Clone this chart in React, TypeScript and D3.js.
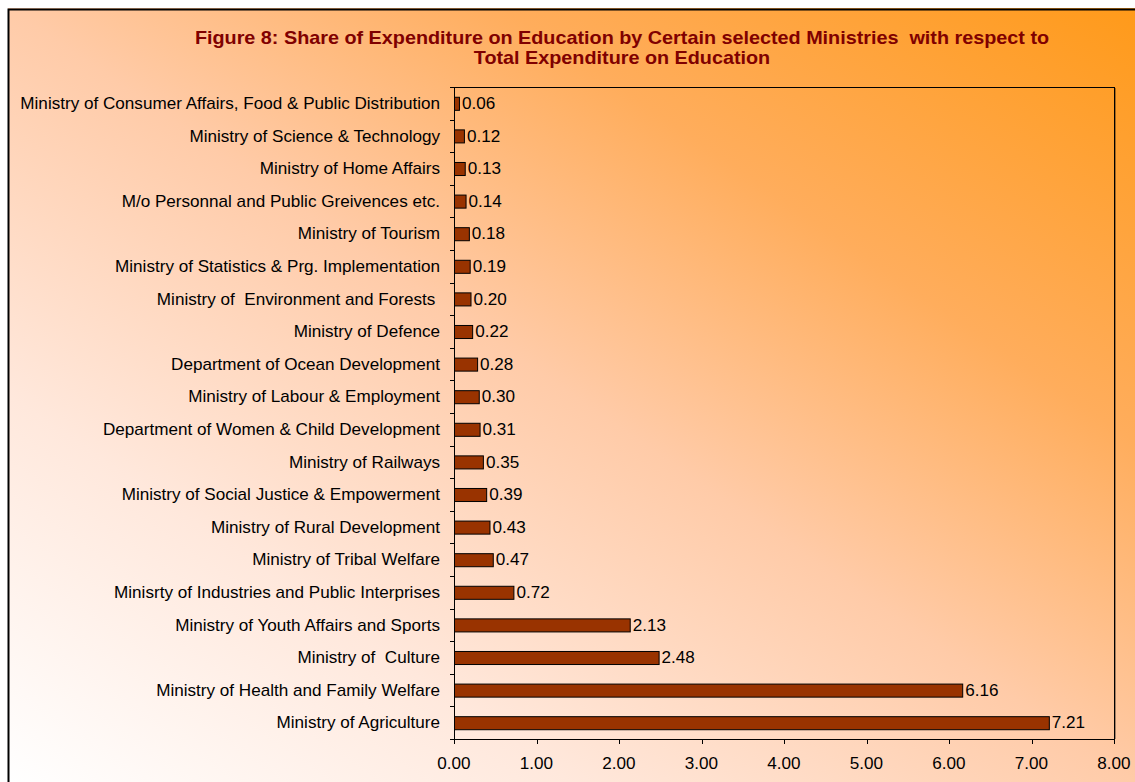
import { useEffect, useRef } from "react";
import * as d3 from "d3";

const ministries = [
  "Ministry of Consumer Affairs, Food & Public Distribution",
  "Ministry of Science & Technology",
  "Ministry of Home Affairs",
  "M/o Personnal and Public Greivences etc.",
  "Ministry of Tourism",
  "Ministry of Statistics & Prg. Implementation",
  "Ministry of  Environment and Forests ",
  "Ministry of Defence",
  "Department of Ocean Development",
  "Ministry of Labour & Employment",
  "Department of Women & Child Development",
  "Ministry of Railways",
  "Ministry of Social Justice & Empowerment",
  "Ministry of Rural Development",
  "Ministry of Tribal Welfare",
  "Minisrty of Industries and Public Interprises",
  "Ministry of Youth Affairs and Sports",
  "Ministry of  Culture",
  "Ministry of Health and Family Welfare",
  "Ministry of Agriculture",
];
const shares = [
  0.06, 0.12, 0.13, 0.14, 0.18, 0.19, 0.2, 0.22, 0.28, 0.3, 0.31, 0.35, 0.39,
  0.43, 0.47, 0.72, 2.13, 2.48, 6.16, 7.21,
];
const xTicks = [0, 1, 2, 3, 4, 5, 6, 7, 8];
const titleLines = [
  "Figure 8: Share of Expenditure on Education by Certain selected Ministries  with respect to",
  "Total Expenditure on Education",
];

const W = 1135;
const H = 782;
const FONT = "'Liberation Sans', Arial, sans-serif";
// the reference text is a little wider than plain Arial
const SX = 1.07;

export default function App() {
  const ref = useRef<SVGSVGElement | null>(null);

  useEffect(() => {
    if (!ref.current) return;
    const svg = d3.select(ref.current);
    svg.selectAll("*").remove();

    // background gradient, orange in the top-right corner fading to white
    const defs = svg.append("defs");
    const grad = defs
      .append("linearGradient")
      .attr("id", "bg")
      .attr("x1", 1)
      .attr("y1", 0)
      .attr("x2", 0)
      .attr("y2", 1);
    grad.append("stop").attr("offset", 0).attr("stop-color", "#ff9a1a");
    grad.append("stop").attr("offset", 0.28).attr("stop-color", "#ffad5c");
    grad.append("stop").attr("offset", 0.5).attr("stop-color", "#ffcba8");
    grad.append("stop").attr("offset", 0.75).attr("stop-color", "#ffe8dc");
    grad.append("stop").attr("offset", 1).attr("stop-color", "#ffffff");

    svg.append("rect").attr("width", W).attr("height", H).attr("fill", "#fff");
    svg
      .append("rect")
      .attr("x", 8)
      .attr("y", 8)
      .attr("width", W - 8)
      .attr("height", H - 8)
      .attr("fill", "url(#bg)");
    // outer border (only top + left visible in the window)
    svg
      .append("path")
      .attr("d", `M8.5,${H}V9.5H${W}`)
      .attr("fill", "none")
      .attr("stroke", "#000")
      .attr("stroke-width", 2);

    const left = 454;
    const right = 1114;
    const top = 87;
    const bottom = 739;

    const x = d3.scaleLinear().domain([0, 8]).range([left, right]);
    const y = d3
      .scaleBand<string>()
      .domain(ministries)
      .range([top, bottom])
      .paddingInner(0.6)
      .paddingOuter(0.3);

    const label = (
      g: d3.Selection<SVGGElement, unknown, null, undefined>,
      tx: number,
      ty: number,
      txt: string,
      anchor: string,
      size: number,
      sx: number,
      opts: { bold?: boolean; fill?: string } = {}
    ) => {
      g.append("g")
        .attr("transform", `translate(${tx},${ty}) scale(${sx},1)`)
        .append("text")
        .attr("dy", "0.35em")
        .attr("text-anchor", anchor)
        .attr("font-family", FONT)
        .attr("font-size", size)
        .attr("font-weight", opts.bold ? "bold" : "normal")
        .attr("fill", opts.fill ?? "#000")
        .style("white-space", "pre")
        .text(txt);
    };

    // title
    const gTitle = svg.append("g");
    titleLines.forEach((t, i) =>
      label(gTitle, 622, 38 + i * 20, t, "middle", 18, 1.1, { bold: true, fill: "#800000" })
    );

    // plot area frame
    svg
      .append("rect")
      .attr("x", left + 0.5)
      .attr("y", top + 0.5)
      .attr("width", right - left)
      .attr("height", bottom - top)
      .attr("fill", "none")
      .attr("stroke", "#000")
      .attr("stroke-width", 1);
    svg
      .append("line")
      .attr("x1", right + 1.5)
      .attr("x2", right + 1.5)
      .attr("y1", top + 1)
      .attr("y2", bottom)
      .attr("stroke", "#000")
      .attr("stroke-opacity", 0.35);

    // y axis ticks at category boundaries
    const step = y.step();
    const bounds = d3.range(ministries.length + 1).map(i => top + i * step);
    svg
      .append("g")
      .selectAll("line")
      .data(bounds)
      .enter()
      .append("line")
      .attr("x1", left - 4)
      .attr("x2", left + 0.5)
      .attr("y1", d => Math.round(d) + 0.5)
      .attr("y2", d => Math.round(d) + 0.5)
      .attr("stroke", "#000");

    const gCat = svg.append("g");
    ministries.forEach(m =>
      label(gCat, left - 14, (y(m) ?? 0) + y.bandwidth() / 2, m, "end", 16, SX)
    );

    // x axis
    svg
      .append("g")
      .selectAll("line")
      .data(xTicks)
      .enter()
      .append("line")
      .attr("x1", d => Math.round(x(d)) + 0.5)
      .attr("x2", d => Math.round(x(d)) + 0.5)
      .attr("y1", bottom)
      .attr("y2", bottom + 5)
      .attr("stroke", "#000");

    const gTick = svg.append("g");
    xTicks.forEach(t => label(gTick, x(t), bottom + 24, d3.format(".2f")(t), "middle", 16, SX));

    // bars
    svg
      .append("g")
      .selectAll("rect")
      .data(shares)
      .enter()
      .append("rect")
      .attr("x", left + 0.5)
      .attr("y", (_d, i) => (y(ministries[i]) ?? 0) + 0.5)
      .attr("width", d => x(d) - left)
      .attr("height", y.bandwidth())
      .attr("fill", "#993300")
      .attr("stroke", "#000")
      .attr("stroke-width", 1);

    // value labels
    const gVal = svg.append("g");
    shares.forEach((v, i) =>
      label(
        gVal,
        x(v) + 3,
        (y(ministries[i]) ?? 0) + y.bandwidth() / 2,
        d3.format(".2f")(v),
        "start",
        16,
        SX
      )
    );
  }, []);

  return (
    <svg
      ref={ref}
      width={W}
      height={H}
      style={{ display: "block", position: "fixed", left: 0, top: 0 }}
    />
  );
}
